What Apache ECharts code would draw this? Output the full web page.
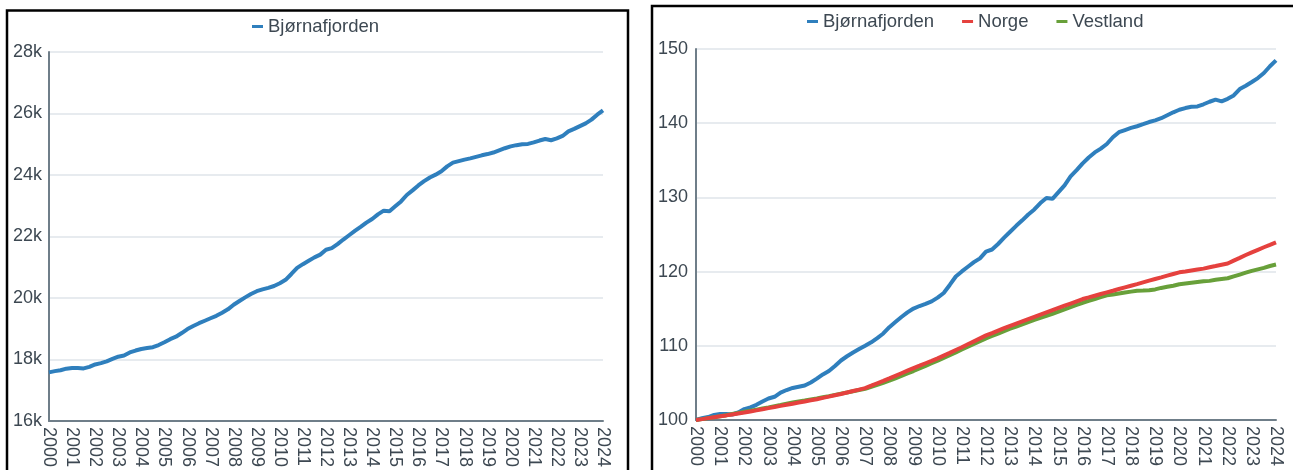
<!DOCTYPE html>
<html>
<head>
<meta charset="utf-8">
<script src="https://cdn.jsdelivr.net/npm/echarts@6/dist/echarts.min.js"></script>
<style>
  html, body { margin: 0; padding: 0; background: #fff; }
  #chart { width: 1293px; height: 470px; }
</style>
</head>
<body>
<div id="chart"></div>
<script>
// Years shown on the x axis (quarterly data, 2000K1 .. 2024K1)
const years = [2000,2001,2002,2003,2004,2005,2006,2007,2008,2009,2010,2011,2012,2013,2014,2015,2016,2017,2018,2019,2020,2021,2022,2023,2024];

// Left chart: population Bjørnafjorden (quarterly)
const bjornafjordenPop = [
  17580,17620,17650,17700, 17725,17720,17710,17760, 17838,17880,17940,18020,
  18090,18130,18230,18290, 18340,18370,18400,18470, 18560,18660,18740,18860,
  18990,19090,19180,19260, 19340,19420,19520,19630, 19780,19900,20020,20130,
  20220,20280,20330,20390, 20480,20590,20780,20980, 21100,21210,21320,21410,
  21570,21620,21750,21900, 22040,22180,22310,22450, 22570,22720,22840,22820,
  22980,23140,23350,23500, 23660,23800,23920,24010, 24120,24280,24400,24450,
  24500,24540,24590,24640, 24680,24730,24800,24870, 24930,24970,25000,25010,
  25060,25120,25170,25130, 25190,25270,25420,25500, 25590,25680,25800,25960,
  26100
];

// Right chart: index (2000K1 = 100)
const bjornafjordenIdx = [
  100.00,100.23,100.40,100.68, 100.82,100.80,100.74,101.02, 101.47,101.71,102.05,102.50,
  102.90,103.13,103.70,104.04, 104.32,104.49,104.66,105.06, 105.57,106.14,106.60,107.28,
  108.02,108.59,109.10,109.56, 110.01,110.47,111.04,111.66, 112.51,113.20,113.88,114.51,
  115.02,115.36,115.64,115.98, 116.50,117.12,118.20,119.34, 120.02,120.65,121.27,121.79,
  122.70,122.98,123.72,124.57, 125.37,126.17,126.91,127.70, 128.38,129.24,129.92,129.81,
  130.72,131.63,132.82,133.67, 134.58,135.38,136.06,136.58, 137.20,138.11,138.79,139.08,
  139.36,139.59,139.87,140.16, 140.39,140.67,141.07,141.47, 141.81,142.04,142.21,142.26,
  142.55,142.89,143.17,142.95, 143.29,143.74,144.60,145.05, 145.56,146.08,146.76,147.67,
  148.46
];
const norgeIdx = [
  100.00,100.12,100.25,100.38, 100.50,100.62,100.75,100.88, 101.00,101.15,101.30,101.45,
  101.60,101.75,101.90,102.05, 102.20,102.35,102.50,102.65, 102.80,102.98,103.15,103.33,
  103.50,103.70,103.90,104.10, 104.30,104.62,104.95,105.27, 105.60,105.95,106.30,106.65,
  107.00,107.32,107.65,107.97, 108.30,108.68,109.05,109.43, 109.80,110.20,110.60,111.00,
  111.40,111.72,112.05,112.38, 112.70,113.00,113.30,113.60, 113.90,114.20,114.50,114.80,
  115.10,115.40,115.70,116.00, 116.30,116.52,116.75,116.98, 117.20,117.42,117.65,117.88,
  118.10,118.32,118.55,118.78, 119.00,119.22,119.45,119.68, 119.90,120.02,120.15,120.28,
  120.40,120.58,120.75,120.93, 121.10,121.48,121.85,122.23, 122.60,122.94,123.28,123.61,
  123.95
];
const vestlandIdx = [
  100.00,100.12,100.25,100.38, 100.50,100.65,100.80,100.95, 101.10,101.25,101.40,101.55,
  101.70,101.86,102.02,102.19, 102.35,102.49,102.62,102.76, 102.90,103.06,103.22,103.39,
  103.55,103.71,103.88,104.04, 104.20,104.48,104.75,105.02, 105.30,105.62,105.95,106.28,
  106.60,106.95,107.30,107.65, 108.00,108.38,108.75,109.12, 109.50,109.88,110.25,110.62,
  111.00,111.32,111.65,111.98, 112.30,112.60,112.90,113.20, 113.50,113.78,114.05,114.32,
  114.60,114.90,115.20,115.50, 115.80,116.05,116.30,116.55, 116.80,116.92,117.05,117.18,
  117.30,117.42,117.45,117.50, 117.60,117.80,117.95,118.10, 118.30,118.40,118.50,118.60,
  118.70,118.75,118.90,119.00, 119.10,119.35,119.60,119.85, 120.10,120.30,120.50,120.75,
  120.95
];

// Quarter categories
const quarters = [];
years.forEach(function (y) {
  for (let k = 1; k <= 4; k++) {
    if (y === 2024 && k > 1) break;
    quarters.push(y + 'K' + k);
  }
});

const leftTicks = { min: 16000, max: 28000, interval: 2000 };
const rightTicks = { min: 100, max: 150, interval: 10 };

const COL_BLUE = '#2f7fbd';
const COL_RED = '#e5413e';
const COL_GREEN = '#68a03a';
const TXT = '#3d4852';
const AXIS = '#6f7e89';
const GRID = '#dfe5ea';
const FONT = 'Liberation Sans, Arial, sans-serif';

function xAxis(gridIndex) {
  return {
    type: 'category', gridIndex: gridIndex, data: quarters, boundaryGap: false,
    axisLine: { lineStyle: { color: AXIS, width: 2 } },
    axisTick: { show: false },
    splitLine: { show: false },
    axisLabel: {
      rotate: -90, margin: 6, color: TXT, fontSize: 18, fontFamily: FONT,
      interval: function (i) { return i % 4 === 0; },
      formatter: function (v) { return v.slice(0, 4); }
    }
  };
}

const chart = echarts.init(document.getElementById('chart'), null, { renderer: 'canvas' });
chart.setOption({
  animation: false,
  backgroundColor: '#fff',
  textStyle: { fontFamily: FONT },
  graphic: [
    { type: 'rect', shape: { x: 7, y: 10.5, width: 621, height: 480 }, style: { fill: 'none', stroke: '#000', lineWidth: 2.5 }, silent: true, z: 100 },
    { type: 'rect', shape: { x: 652, y: 6, width: 660, height: 480 }, style: { fill: 'none', stroke: '#000', lineWidth: 2.5 }, silent: true, z: 100 }
  ],
  legend: [
    {
      left: 247, top: 12, icon: 'rect', itemWidth: 11, itemHeight: 3, itemGap: 28,
      textStyle: { color: TXT, fontSize: 18.5, fontFamily: FONT },
      data: ['Bjørnafjorden_L'],
      formatter: function () { return 'Bjørnafjorden'; }
    },
    {
      left: 802, top: 7, icon: 'rect', itemWidth: 11, itemHeight: 3, itemGap: 28,
      textStyle: { color: TXT, fontSize: 18.5, fontFamily: FONT },
      data: ['Bjørnafjorden', 'Norge', 'Vestland']
    }
  ],
  grid: [
    { left: 49, right: 690, top: 52, bottom: 48 },
    { left: 696, right: 17, top: 49, bottom: 50 }
  ],
  xAxis: [xAxis(0), xAxis(1)],
  yAxis: [
    {
      type: 'value', gridIndex: 0, min: leftTicks.min, max: leftTicks.max, interval: leftTicks.interval,
      axisLine: { show: true, lineStyle: { color: AXIS, width: 2 } },
      axisTick: { show: false },
      splitLine: { lineStyle: { color: GRID, width: 1.5 } },
      axisLabel: { margin: 7, color: TXT, fontSize: 18, fontFamily: FONT,
        formatter: function (v) { return (v / 1000) + 'k'; } }
    },
    {
      type: 'value', gridIndex: 1, min: rightTicks.min, max: rightTicks.max, interval: rightTicks.interval,
      axisLine: { show: true, lineStyle: { color: AXIS, width: 2 } },
      axisTick: { show: false },
      splitLine: { lineStyle: { color: GRID, width: 1.5 } },
      axisLabel: { margin: 8, color: TXT, fontSize: 18, fontFamily: FONT }
    }
  ],
  series: [
    { name: 'Bjørnafjorden_L', type: 'line', xAxisIndex: 0, yAxisIndex: 0, data: bjornafjordenPop,
      showSymbol: false, lineStyle: { width: 4, color: COL_BLUE }, itemStyle: { color: COL_BLUE } },
    { name: 'Bjørnafjorden', type: 'line', xAxisIndex: 1, yAxisIndex: 1, data: bjornafjordenIdx,
      showSymbol: false, lineStyle: { width: 4, color: COL_BLUE }, itemStyle: { color: COL_BLUE } },
    { name: 'Vestland', type: 'line', xAxisIndex: 1, yAxisIndex: 1, data: vestlandIdx,
      showSymbol: false, lineStyle: { width: 4, color: COL_GREEN }, itemStyle: { color: COL_GREEN } },
    { name: 'Norge', type: 'line', xAxisIndex: 1, yAxisIndex: 1, data: norgeIdx,
      showSymbol: false, lineStyle: { width: 4, color: COL_RED }, itemStyle: { color: COL_RED } }
  ]
});
</script>
</body>
</html>
